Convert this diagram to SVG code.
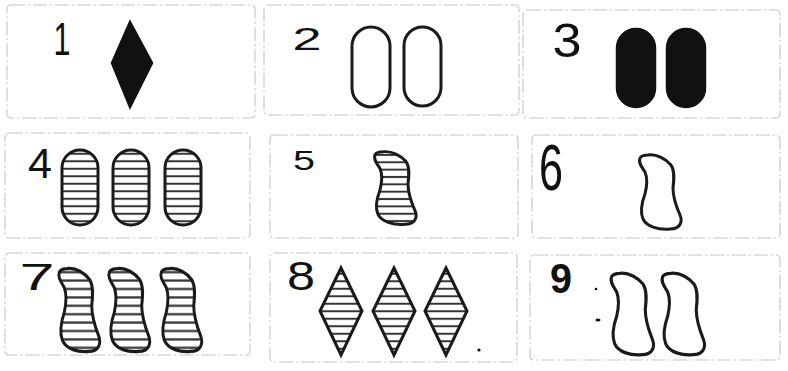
<svg xmlns="http://www.w3.org/2000/svg" width="788" height="371" viewBox="0 0 788 371">
<style>
.card{fill:none;stroke:#c4c4c4;stroke-width:1.1;stroke-dasharray:14 3 2 3}
.num{font-family:"Liberation Sans",Arial,sans-serif;fill:#111;text-anchor:middle}
.solid{fill:#111;stroke:#111;stroke-width:2.5}
.open{fill:none;stroke:#1a1a1a;stroke-width:3}
.striped{fill:url(#stripes);stroke:#1a1a1a;stroke-width:3}
</style>
<defs>
<pattern id="stripes" patternUnits="userSpaceOnUse" width="20" height="7.5">
<rect width="20" height="7.5" fill="#fff"/>
<line x1="0" y1="3.75" x2="20" y2="3.75" stroke="#333" stroke-width="2"/>
</pattern>
<path id="sq" d="M -12,-37 C -3,-38 6,-33 11,-27 C 15,-21 14,-12 13,-4 C 13,6 16,14 20,23 C 23,30 20,37 10,37 C -1,38 -13,35 -17,27 C -20,20 -18,10 -15,2 C -13,-6 -12,-13 -15,-20 C -18,-25 -22,-29 -20,-34 C -18,-37 -15,-37 -12,-37 Z"/>
</defs>
<rect width="788" height="371" fill="#fff"/>

<g id="card1">
<rect class="card" x="7" y="5" width="248" height="113" rx="4"/>
<text class="num" x="62" y="55" font-size="46" textLength="17" lengthAdjust="spacingAndGlyphs">1</text>
<polygon class="solid" points="130,22 152,63 130,107 112,63"/>
</g>

<g id="card2">
<rect class="card" x="264" y="5" width="255" height="110" rx="4"/>
<text class="num" x="307" y="50" font-size="32" textLength="29" lengthAdjust="spacingAndGlyphs">2</text>
<rect class="open" x="352" y="27" width="38" height="80" rx="19"/>
<rect class="open" x="404" y="27" width="37" height="79" rx="18.5"/>
</g>

<g id="card3">
<rect class="card" x="523" y="10" width="257" height="108" rx="4"/>
<text class="num" x="567" y="57" font-size="48" textLength="29" lengthAdjust="spacingAndGlyphs">3</text>
<rect class="solid" x="617" y="29" width="38" height="78" rx="19"/>
<rect class="solid" x="667" y="29" width="38" height="78" rx="19"/>
</g>

<g id="card4">
<rect class="card" x="5" y="133" width="245" height="105" rx="4"/>
<text class="num" x="40" y="178" font-size="42" textLength="24" lengthAdjust="spacingAndGlyphs">4</text>
<rect class="striped" x="62" y="150" width="36" height="75" rx="18"/>
<rect class="striped" x="113" y="150" width="36" height="75" rx="18"/>
<rect class="striped" x="165" y="150" width="36" height="75" rx="18"/>
</g>

<g id="card5">
<rect class="card" x="270" y="135" width="248" height="103" rx="4"/>
<text class="num" x="304" y="170" font-size="28" textLength="22" lengthAdjust="spacingAndGlyphs">5</text>
<use href="#sq" class="striped" transform="translate(395,188) scale(1,0.98)"/>
</g>

<g id="card6">
<rect class="card" x="532" y="135" width="248" height="103" rx="4"/>
<text class="num" x="551" y="190" font-size="64" textLength="24" lengthAdjust="spacingAndGlyphs">6</text>
<use href="#sq" class="open" transform="translate(660,192)"/>
</g>

<g id="card7">
<rect class="card" x="5" y="253" width="245" height="102" rx="4"/>
<text class="num" x="37" y="290" font-size="36" textLength="35" lengthAdjust="spacingAndGlyphs">7</text>
<use href="#sq" class="striped" transform="translate(79,310) scale(0.98,1.12)"/>
<use href="#sq" class="striped" transform="translate(129,310) scale(0.98,1.12)"/>
<use href="#sq" class="striped" transform="translate(181,310) scale(0.98,1.12)"/>
</g>

<g id="card8">
<rect class="card" x="270" y="253" width="247" height="109" rx="4"/>
<text class="num" x="301" y="290" font-size="40" textLength="28" lengthAdjust="spacingAndGlyphs">8</text>
<polygon class="striped" points="341,268 362,311 341,355 320,311"/>
<polygon class="striped" points="394,268 415,311 394,355 373,311"/>
<polygon class="striped" points="446,268 467,311 446,355 425,311"/>
<circle cx="479" cy="350" r="1.6" fill="#111"/>
</g>

<g id="card9">
<rect class="card" x="530" y="255" width="250" height="105" rx="4"/>
<text class="num" x="561" y="293" font-size="42" font-weight="bold" textLength="22" lengthAdjust="spacingAndGlyphs">9</text>
<circle cx="596" cy="289" r="1.3" fill="#111"/>
<ellipse cx="598" cy="320" rx="2.5" ry="1.5" fill="#111"/>
<use href="#sq" class="open" transform="translate(632,314) scale(1.02,1.1)"/>
<use href="#sq" class="open" transform="translate(683,314) scale(1.02,1.1)"/>
</g>
</svg>
